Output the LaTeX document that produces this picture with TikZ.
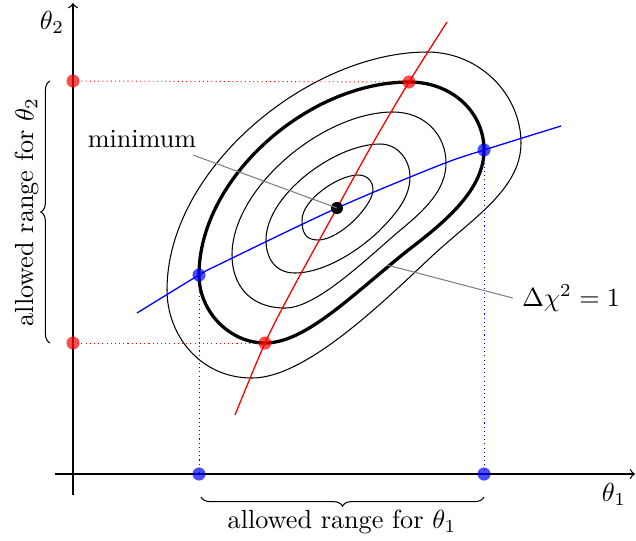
\documentclass[tikz,border=0pt]{standalone}
\usetikzlibrary{decorations.pathreplacing}
\begin{document}
\begin{tikzpicture}[x=0.3817pt,y=-0.3817pt,
  contourline/.style={line width=0.4pt},
  thickcontour/.style={line width=1.25pt},
  axisline/.style={line width=0.5pt,->},
  reddot/.style={circle,fill=red,fill opacity=0.7,inner sep=0pt,minimum size=5pt},
  bluedot/.style={circle,fill=blue,fill opacity=0.7,inner sep=0pt,minimum size=5pt},
  mindot/.style={circle,fill=black,inner sep=0pt,minimum size=4.6pt},
  reddotted/.style={red,line width=0.35pt,dash pattern=on 0.4pt off 1.2pt},
  bluedotted/.style={blue,line width=0.35pt,dash pattern=on 0.4pt off 1.2pt},
  pointer/.style={gray,line width=0.4pt},
  bracestyle/.style={decorate,decoration={brace,amplitude=3.5pt},line width=0.4pt}]
\useasboundingbox (0,0) rectangle (636,540);
% axes
\coordinate (xa) at (55,474);
\coordinate (xb) at (635,474);
\coordinate (ya) at (73,495);
\coordinate (yb) at (73,3);
\draw[axisline] (xa) -- (xb);
\draw[axisline] (ya) -- (yb);
\node (th2) at (52,22) {$\theta_2$};
\node (th1) at (614,494) {$\theta_1$};
% contours
\draw[contourline] (358,175) .. controls (368,175) and (373,182) .. (373,190)
  .. controls (373,205) and (340,240) .. (318,240)
  .. controls (305,240) and (302,232) .. (302,220)
  .. controls (302,200) and (338,175) .. (358,175) -- cycle;
\draw[contourline] (380,144) .. controls (398,144) and (410,160) .. (410,177)
  .. controls (410,198) and (395,215) .. (378,232)
  .. controls (350,258) and (318,273) .. (295,273)
  .. controls (275,273) and (266,258) .. (266,240)
  .. controls (266,195) and (335,144) .. (380,144) -- cycle;
\draw[contourline] (393,112) .. controls (425,112) and (446,135) .. (446,163)
  .. controls (446,190) and (425,210) .. (398,232)
  .. controls (360,265) and (315,308) .. (285,308)
  .. controls (250,308) and (232,285) .. (232,255)
  .. controls (232,188) and (323,112) .. (393,112) -- cycle;
\draw[thickcontour] (409,82) .. controls (452,82) and (484,112) .. (484,150)
  .. controls (484,190) and (445,222) .. (407,251)
  .. controls (350,297) and (305,343) .. (265,343)
  .. controls (230,343) and (199,312) .. (199,275)
  .. controls (199,178) and (308,82) .. (409,82) -- cycle;
\draw[contourline] (427,52) .. controls (480,52) and (521,95) .. (521,143)
  .. controls (521,190) and (470,220) .. (430,258)
  .. controls (380,305) and (305,378) .. (252,378)
  .. controls (200,378) and (167,335) .. (167,290)
  .. controls (167,168) and (310,52) .. (427,52) -- cycle;
% profile lines
\draw[red,line width=0.5pt] plot[smooth] coordinates {(235,415) (265,343) (292,290) (337,208) (373,143) (409,82) (447,22)};
\draw[blue,line width=0.5pt] plot[smooth] coordinates {(137,313) (199,275) (220,264) (337,208) (440,165) (484,150) (561,126)};
% points
\node[mindot] (min) at (337,208) {};
\node[reddot] (rt) at (409,82) {};
\node[reddot] (rb) at (265,343) {};
\node[reddot] (rat) at (73,81) {};
\node[reddot] (rab) at (73,343) {};
\node[bluedot] (bl) at (199,275) {};
\node[bluedot] (br) at (484,150) {};
\node[bluedot] (bal) at (199,474) {};
\node[bluedot] (bar) at (484,474) {};
\draw[reddotted] (rat.center) -- (rt.center);
\draw[reddotted] (rab.center) -- (rb.center);
\draw[bluedotted] (bl.center) -- (bal.center);
\draw[bluedotted] (br.center) -- (bar.center);
% labels
\node (minlab) at (142,139) {minimum};
\coordinate (minstart) at (193,155);
\draw[pointer] (minstart) -- (min.center);
\node (dchi) at (571,298) {$\Delta\chi^2=1$};
\coordinate (dchiend) at (387,265);
\draw[pointer] (dchi.west) -- (dchiend);
% braces
\coordinate (b1a) at (484,497);
\coordinate (b1b) at (201,497);
\draw[bracestyle] (b1a) -- (b1b);
\node (r1lab) at (342,522) {allowed range for $\theta_1$};
\coordinate (b2a) at (50,343);
\coordinate (b2b) at (50,81);
\draw[bracestyle] (b2a) -- (b2b);
\node[rotate=90] (r2lab) at (27,212) {allowed range for $\theta_2$};
\end{tikzpicture}
\end{document}
